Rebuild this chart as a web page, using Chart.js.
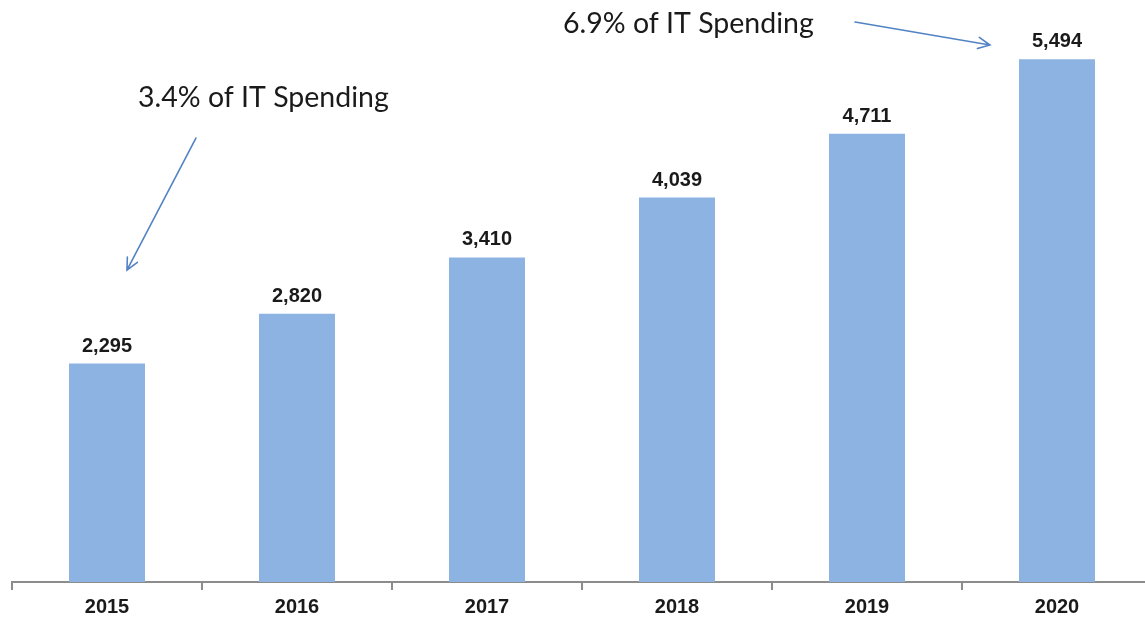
<!DOCTYPE html>
<html>
<head>
<meta charset="utf-8">
<script src="https://cdn.jsdelivr.net/npm/chart.js@4/dist/chart.umd.min.js"></script>
<style>
  html, body { margin: 0; padding: 0; background: #fff; overflow: hidden; width: 1145px; height: 621px; }
  #wrap { width: 1152px; height: 621px; }
</style>
</head>
<body>
<div id="wrap"><canvas id="c" width="1152" height="621"></canvas></div>
<script>
// Spending by year
const years = ['2015', '2016', '2017', '2018', '2019', '2020'];
const spending = [2295, 2820, 3410, 4039, 4711, 5494];
const valueLabels = ['2,295', '2,820', '3,410', '4,039', '4,711', '5,494'];

// Call-outs, placed in chart units: x = category index (+ offset), y = value
const calloutTexts = ['3.4% of IT Spending', '6.9% of IT Spending'];
const calloutTextPos = [[0.163, 4991], [2.4, 5769]];
const calloutArrowFrom = [[0.468, 4665], [3.937, 5884]];
const calloutArrowTo = [[0.105, 3278], [4.647, 5643]];

const valueLabelPlugin = {
  id: 'valueLabels',
  afterDatasetsDraw(chart) {
    const ctx = chart.ctx;
    const meta = chart.getDatasetMeta(0);
    ctx.save();
    ctx.fillStyle = '#1a1a1a';
    ctx.font = 'bold 20px "Liberation Sans", Arial, sans-serif';
    ctx.textAlign = 'center';
    ctx.textBaseline = 'alphabetic';
    meta.data.forEach((bar, i) => {
      ctx.fillText(valueLabels[i], bar.x, bar.y - 12);
    });
    ctx.restore();
  }
};

const calloutPlugin = {
  id: 'callouts',
  afterDraw(chart) {
    const ctx = chart.ctx;
    const xs = chart.scales.x, ys = chart.scales.y;
    const px = p => [xs.getPixelForValue(p[0]), ys.getPixelForValue(p[1])];
    ctx.save();
    ctx.fillStyle = '#1a1a1a';
    ctx.font = '28.5px Lato, "Open Sans", sans-serif';
    ctx.textAlign = 'left';
    ctx.textBaseline = 'alphabetic';
    calloutTexts.forEach((t, i) => {
      const [x, y] = px(calloutTextPos[i]);
      ctx.fillText(t, x, y);
    });
    ctx.strokeStyle = '#5283c4';
    ctx.lineWidth = 1.6;
    ctx.lineCap = 'round';
    calloutTexts.forEach((t, i) => {
      const [x1, y1] = px(calloutArrowFrom[i]);
      const [x2, y2] = px(calloutArrowTo[i]);
      const a = Math.atan2(y2 - y1, x2 - x1);
      const h = 13, spread = 0.45;
      ctx.beginPath();
      ctx.moveTo(x1, y1);
      ctx.lineTo(x2, y2);
      ctx.moveTo(x2 - h * Math.cos(a - spread), y2 - h * Math.sin(a - spread));
      ctx.lineTo(x2, y2);
      ctx.lineTo(x2 - h * Math.cos(a + spread), y2 - h * Math.sin(a + spread));
      ctx.stroke();
    });
    ctx.restore();
  }
};

new Chart(document.getElementById('c'), {
  type: 'bar',
  data: {
    labels: years,
    datasets: [{
      data: spending,
      backgroundColor: '#8db3e2',
      borderWidth: 0,
      categoryPercentage: 0.4,
      barPercentage: 1.0
    }]
  },
  options: {
    responsive: false,
    animation: false,
    layout: { padding: { left: 12, top: 11, right: 0, bottom: 0 } },
    plugins: { legend: { display: false }, tooltip: { enabled: false } },
    scales: {
      x: {
        offset: true,
        afterFit(scale) { scale.height = 39; },
        grid: {
          offset: true,
          drawOnChartArea: false,
          drawTicks: true,
          tickLength: 8,
          tickColor: '#8c8c8c',
          lineWidth: 2
        },
        border: { display: true, color: '#8c8c8c', width: 2 },
        ticks: {
          color: '#1a1a1a',
          padding: 7,
          font: { family: '"Liberation Sans", Arial, sans-serif', size: 20, weight: 'bold', lineHeight: 1.0 }
        }
      },
      y: {
        display: false,
        min: 0,
        max: 6000
      }
    }
  },
  plugins: [valueLabelPlugin, calloutPlugin]
});
</script>
</body>
</html>
